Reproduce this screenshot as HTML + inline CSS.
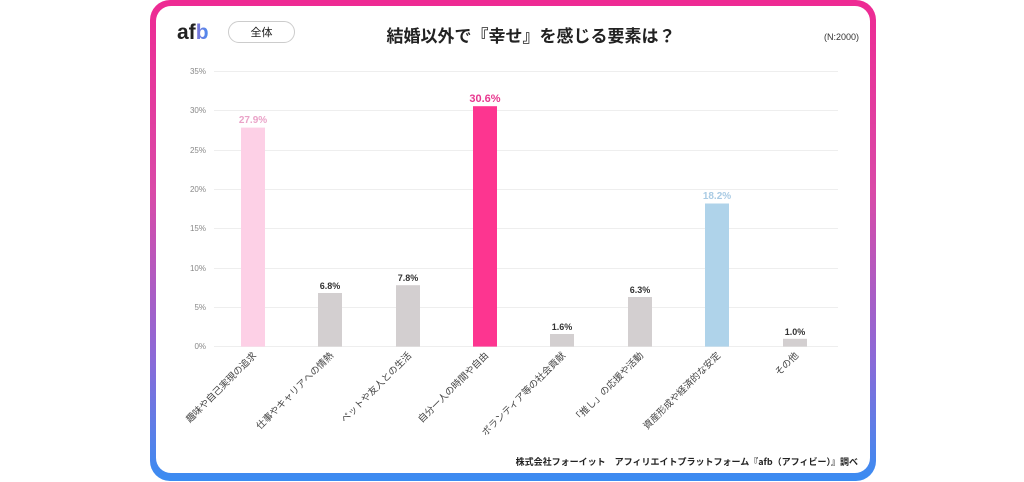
<!DOCTYPE html>
<html><head><meta charset="utf-8"><style>
body{margin:0;width:1024px;height:482px;background:#fff;overflow:hidden;position:relative;font-family:"Liberation Sans","Noto Sans CJK JP",sans-serif;}
.frame{position:absolute;left:150px;top:0;width:726px;height:481px;border-radius:20px;background:linear-gradient(180deg,#ee2a93 0%,#d94aa8 40%,#8a6ad8 75%,#3a8cf2 100%);}
.inner{position:absolute;left:6px;top:6px;right:6px;bottom:8px;background:#fff;border-radius:15px;}
</style></head><body>
<div class="frame"><div class="inner"></div></div>
<svg width="1024" height="482" style="position:absolute;left:0;top:0" font-family="Liberation Sans, Noto Sans CJK JP, sans-serif">
<defs><linearGradient id="lg" x1="0" x2="1"><stop offset="0" stop-color="#c84fb0"/><stop offset="1" stop-color="#4c8cf0"/></linearGradient></defs>
<text x="177" y="39" font-size="21" font-weight="bold" fill="#222">af<tspan fill="url(#lg)">b</tspan></text>
<rect x="228.5" y="21.5" width="66" height="21" rx="10.5" fill="#fff" stroke="#ccc"/>
<text x="261.5" y="36" font-size="11" text-anchor="middle" fill="#222" font-family="Noto Sans CJK JP, sans-serif">全体</text>
<text x="531" y="42" font-size="17" font-weight="bold" text-anchor="middle" fill="#222" font-family="Noto Sans CJK JP, sans-serif">結婚以外で『幸せ』を感じる要素は？</text>
<text x="859" y="40" font-size="9" text-anchor="end" fill="#333">(N:2000)</text>
<g font-size="8" fill="#888" text-anchor="end">
<g stroke="#eeeeee" stroke-width="1">
<line x1="214" x2="838" y1="71.5" y2="71.5"/><line x1="214" x2="838" y1="110.5" y2="110.5"/><line x1="214" x2="838" y1="150.5" y2="150.5"/><line x1="214" x2="838" y1="189.5" y2="189.5"/><line x1="214" x2="838" y1="228.5" y2="228.5"/><line x1="214" x2="838" y1="268.5" y2="268.5"/><line x1="214" x2="838" y1="307.5" y2="307.5"/><line x1="214" x2="838" y1="346.5" y2="346.5"/>
</g>
<text x="206" y="74">35%</text><text x="206" y="113">30%</text><text x="206" y="153">25%</text><text x="206" y="192">20%</text><text x="206" y="231">15%</text><text x="206" y="271">10%</text><text x="206" y="310">5%</text><text x="206" y="349">0%</text>
</g>
<g>
<rect x="241" y="127.6" width="24" height="219" fill="#fdd0e6"/>
<rect x="318" y="293" width="24" height="53.6" fill="#d3cfd0"/>
<rect x="396" y="285.2" width="24" height="61.4" fill="#d3cfd0"/>
<rect x="473" y="106.2" width="24" height="240.4" fill="#fd3590"/>
<rect x="550" y="334" width="24" height="12.6" fill="#d3cfd0"/>
<rect x="628" y="297" width="24" height="49.6" fill="#d3cfd0"/>
<rect x="705" y="203.5" width="24" height="143.1" fill="#afd3ea"/>
<rect x="783" y="338.8" width="24" height="7.8" fill="#d3cfd0"/>
</g>
<g font-size="9" font-weight="bold" text-anchor="middle" fill="#333">
<text x="253" y="123" fill="#eaa3c8" font-size="10">27.9%</text>
<text x="330" y="289">6.8%</text>
<text x="408" y="281">7.8%</text>
<text x="485" y="102" fill="#e8388f" font-size="11">30.6%</text>
<text x="562" y="330">1.6%</text>
<text x="640" y="293">6.3%</text>
<text x="717" y="199" fill="#a9cbe4" font-size="10">18.2%</text>
<text x="795" y="335">1.0%</text>
</g>
<g font-size="9.5" fill="#444" text-anchor="end" font-family="Noto Sans CJK JP, sans-serif">
<text transform="translate(257,356) rotate(-45)">趣味や自己実現の追求</text>
<text transform="translate(334,356) rotate(-45)">仕事やキャリアへの情熱</text>
<text transform="translate(412,356) rotate(-45)">ペットや友人との生活</text>
<text transform="translate(489,356) rotate(-45)">自分一人の時間や自由</text>
<text transform="translate(566,356) rotate(-45)">ボランティア等の社会貢献</text>
<text transform="translate(644,356) rotate(-45)">「推し」の応援や活動</text>
<text transform="translate(721,356) rotate(-45)">資産形成や経済的な安定</text>
<text transform="translate(799,356) rotate(-45)">その他</text>
</g>
<text x="858" y="465" font-size="9" font-weight="bold" text-anchor="end" fill="#222" font-family="Noto Sans CJK JP, sans-serif">株式会社フォーイット　アフィリエイトプラットフォーム『afb（アフィビー）』調べ</text>
</svg>
</body></html>
